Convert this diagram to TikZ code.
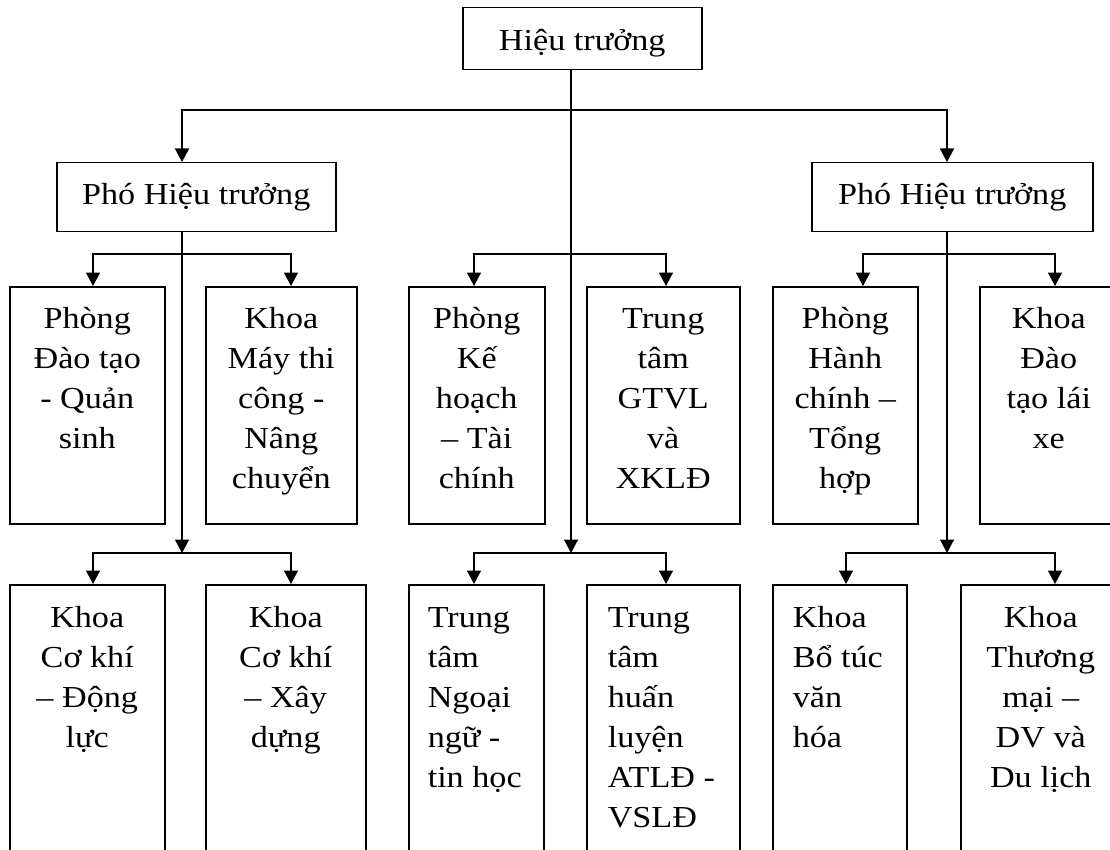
\documentclass[tikz,border=0pt]{standalone}
\usepackage{fontspec}
\setmainfont{Liberation Serif}[FakeStretch=1.12]
\usetikzlibrary{arrows.meta}
\begin{document}
\begin{tikzpicture}[x=1pt,y=-1pt,
  unit/.style={draw, line width=1.5pt, inner sep=0pt, anchor=north west},
  link/.style={line width=1.5pt, line cap=rect},
  arr/.style={link, -{Triangle[width=14pt,length=13.5pt]}},
  every node/.style={font=\fontsize{30.5pt}{40pt}\selectfont}]
\useasboundingbox (0,0) rectangle (1110,850);
\clip (0,0) rectangle (1110,850);
\fill[white] (0,0) rectangle (1110,850);
% top level
\node[unit] (top) at (462,7) {\parbox[b][62pt][t]{239pt}{\centering\rule{0pt}{43pt}Hiệu trưởng}};
\node[unit] (phL) at (56,162) {\parbox[b][69pt][t]{279pt}{\centering\rule{0pt}{42pt}Phó Hiệu trưởng}};
\node[unit] (phR) at (811,162) {\parbox[b][69pt][t]{281pt}{\centering\rule{0pt}{42pt}Phó Hiệu trưởng}};
% row 1
\node[unit] (b1) at (9,286) {\parbox[b][237pt][t]{155pt}{\centering\rule{0pt}{42pt}Phòng\\Đào tạo\\- Quản\\sinh}};
\node[unit] (b2) at (205,286) {\parbox[b][237pt][t]{151pt}{\centering\rule{0pt}{42pt}Khoa\\Máy thi\\công -\\Nâng\\chuyển}};
\node[unit] (b3) at (408,286) {\parbox[b][237pt][t]{136pt}{\centering\rule{0pt}{42pt}Phòng\\Kế\\hoạch\\– Tài\\chính}};
\node[unit] (b4) at (586,286) {\parbox[b][237pt][t]{153pt}{\centering\rule{0pt}{42pt}Trung\\tâm\\GTVL\\và\\XKLĐ}};
\node[unit] (b5) at (772,286) {\parbox[b][237pt][t]{145pt}{\centering\rule{0pt}{42pt}Phòng\\Hành\\chính –\\Tổng\\hợp}};
\node[unit] (b6) at (979,286) {\parbox[b][237pt][t]{138pt}{\centering\rule{0pt}{42pt}Khoa\\Đào\\tạo lái\\xe}};
% row 2
\node[unit] (b7) at (9,584) {\parbox[b][290pt][t]{155pt}{\centering\rule{0pt}{43pt}Khoa\\Cơ khí\\– Động\\lực}};
\node[unit] (b8) at (205,584) {\parbox[b][290pt][t]{160pt}{\centering\rule{0pt}{43pt}Khoa\\Cơ khí\\– Xây\\dựng}};
\node[unit] (b9) at (408,584) {\parbox[b][290pt][t]{135pt}{\raggedright\leftskip=19pt\rule{0pt}{43pt}Trung\\tâm\\Ngoại\\ngữ -\\tin học\par}};
\node[unit] (b10) at (586,584) {\parbox[b][290pt][t]{153pt}{\raggedright\leftskip=21pt\rule{0pt}{43pt}Trung\\tâm\\huấn\\luyện\\ATLĐ -\\VSLĐ\par}};
\node[unit] (b11) at (772,584) {\parbox[b][290pt][t]{134pt}{\raggedright\leftskip=20pt\rule{0pt}{43pt}Khoa\\Bổ túc\\văn\\hóa\par}};
\node[unit] (b12) at (960,584) {\parbox[b][290pt][t]{160pt}{\centering\rule{0pt}{43pt}Khoa\\Thương\\mại –\\DV và\\Du lịch}};
% junction coordinates
\coordinate (hL) at (182,110);
\coordinate (hR) at (947,110);
\coordinate (cM2) at (571,553);
\coordinate (lM2) at (182,553);
\coordinate (rM2) at (947,553);
\coordinate (l1a) at (93,254);  \coordinate (l1b) at (291,254);
\coordinate (c1a) at (474,254); \coordinate (c1b) at (666,254);
\coordinate (r1a) at (863,254); \coordinate (r1b) at (1055,254);
\coordinate (l2a) at (93,553);  \coordinate (l2b) at (291,553);
\coordinate (c2a) at (474,553); \coordinate (c2b) at (666,553);
\coordinate (r2a) at (846,553); \coordinate (r2b) at (1055,553);
% connectors from the top
\draw[arr] (top.south -| cM2) -- (cM2);
\draw[arr] (hR) -- (hL) -- (hL |- phL.north);
\draw[arr] (hR) -- (hR |- phR.north);
% vice principal lines
\draw[arr] (phL.south -| lM2) -- (lM2);
\draw[arr] (phR.south -| rM2) -- (rM2);
% row 1 branches
\draw[arr] (l1b) -- (l1a) -- (l1a |- b1.north);
\draw[arr] (l1b) -- (l1b |- b2.north);
\draw[arr] (c1b) -- (c1a) -- (c1a |- b3.north);
\draw[arr] (c1b) -- (c1b |- b4.north);
\draw[arr] (r1b) -- (r1a) -- (r1a |- b5.north);
\draw[arr] (r1b) -- (r1b |- b6.north);
% row 2 branches
\draw[arr] (l2b) -- (l2a) -- (l2a |- b7.north);
\draw[arr] (l2b) -- (l2b |- b8.north);
\draw[arr] (c2b) -- (c2a) -- (c2a |- b9.north);
\draw[arr] (c2b) -- (c2b |- b10.north);
\draw[arr] (r2b) -- (r2a) -- (r2a |- b11.north);
\draw[arr] (r2b) -- (r2b |- b12.north);
\end{tikzpicture}
\end{document}
